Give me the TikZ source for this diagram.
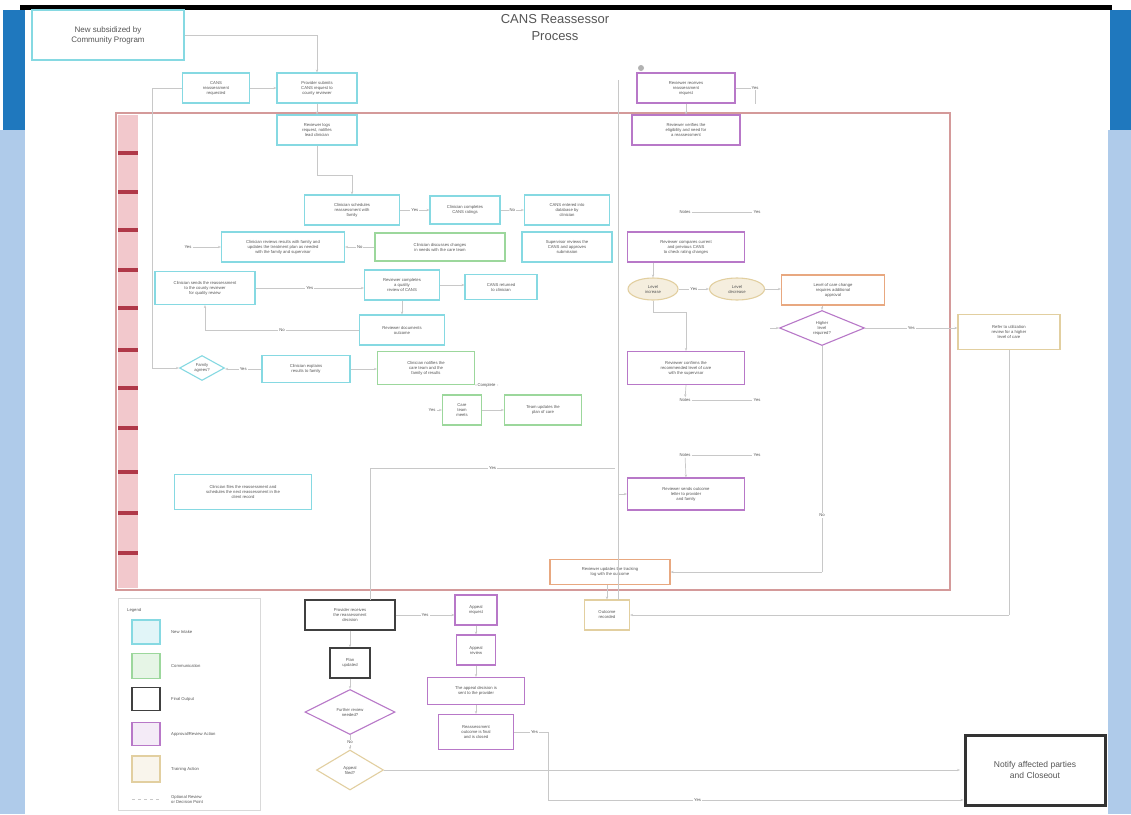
\documentclass[tikz,border=0pt]{standalone}
\usepackage{fontspec}
\setmainfont{Liberation Sans}
\usetikzlibrary{shapes.geometric,arrows.meta}
\definecolor{cyb}{HTML}{86D9E2}
\definecolor{grb}{HTML}{9CD79C}
\definecolor{mgb}{HTML}{B878C8}
\definecolor{tnb}{HTML}{E2CFA0}
\definecolor{orb}{HTML}{E8A880}
\definecolor{rdf}{HTML}{D49A9A}
\definecolor{dkblue}{HTML}{1F78BE}
\definecolor{ltblue}{HTML}{AFCBEA}
\definecolor{lane}{HTML}{F2C8CC}
\definecolor{lanebar}{HTML}{B03848}
\definecolor{ln}{HTML}{C8C8C8}
\definecolor{tx}{HTML}{555555}
\tikzset{
  base/.style={draw, fill=white, line width=1.1pt, align=center, text=tx,
    font=\fontsize{4.2}{5}\selectfont, inner sep=1.5pt},
  cbox/.style={base, draw=cyb},
  gbox/.style={base, draw=grb},
  kbox/.style={base, draw=black!75, line width=1.4pt},
  mbox/.style={base, draw=mgb},
  tbox/.style={base, draw=tnb},
  obox/.style={base, draw=orb},
  tell/.style={base, draw=tnb, ellipse, fill=tnb!35},
  mdia/.style={base, draw=mgb, diamond, aspect=2.2, inner sep=0pt},
  tdia/.style={base, draw=tnb, diamond, aspect=1.8, inner sep=0pt},
  cdia/.style={base, draw=cyb, diamond, aspect=1.8, inner sep=0pt},
  conn/.style={draw=ln, line width=0.7pt, -{Stealth[length=3pt]}},
  plain/.style={draw=ln, line width=0.7pt},
  lbl/.style={fill=white, text=tx, font=\fontsize{4.2}{5}\selectfont, inner sep=1pt},
}
\begin{document}
\begin{tikzpicture}[x=1pt,y=-1pt]
\useasboundingbox (0,0) rectangle (1131,814);
\fill[white] (0,0) rectangle (1131,814);
% side bands
\fill[ltblue] (0,130) rectangle (25,814);
\fill[dkblue] (3,10) rectangle (25,130);
\fill[ltblue] (1108,130) rectangle (1131,814);
\fill[dkblue] (1110,10) rectangle (1131,130);
\fill[black] (20,5) rectangle (1112,10);
% top-left box
\node[base, draw=cyb, line width=2.5pt, minimum width=152pt, minimum height=50pt,
  font=\fontsize{8}{10}\selectfont] (tl) at (108,35) {New subsidized by\\Community Program};
% title
\node[text=tx, font=\fontsize{13}{17}\selectfont, align=center] (title) at (555,28) {CANS Reassessor\\Process};
% red frame
\draw[rdf, line width=2pt] (116,113) rectangle (950,590);
\fill[lane] (118,115) rectangle (138,588);
\foreach \yy in {153,192,230,270,308,350,388,428,472,513,553}{
  \fill[lanebar] (118,\yy-2) rectangle (138,\yy+2);
}
% cyan boxes
\node[cbox, minimum width=67pt, minimum height=30pt] (top1) at (216,88) {CANS\\reassessment\\requested};
\node[cbox, minimum width=80pt, minimum height=30pt] (top2) at (317,88) {Provider submits\\CANS request to\\county reviewer};
\node[cbox, minimum width=80pt, minimum height=30pt] (t3) at (317,130) {Reviewer logs\\request, notifies\\lead clinician};
\node[cbox, minimum width=95pt, minimum height=30pt] (a1) at (352,210) {Clinician schedules\\reassessment with\\family};
\node[cbox, minimum width=70pt, minimum height=28pt] (a2) at (465,210) {Clinician completes\\CANS ratings};
\node[cbox, minimum width=85pt, minimum height=30pt] (a3) at (567,210) {CANS entered into\\database by\\clinician};
\node[cbox, minimum width=123pt, minimum height=30pt] (b1) at (283,247) {Clinician reviews results with family and\\updates the treatment plan as needed\\with the family and supervisor};
\node[gbox, minimum width=130pt, minimum height=28pt] (b2) at (440,247) {Clinician discusses changes\\in needs with the care team};
\node[cbox, minimum width=90pt, minimum height=30pt] (b3) at (567,247) {Supervisor reviews the\\CANS and approves\\submission};
\node[cbox, minimum width=100pt, minimum height=33pt] (c1) at (205,288) {Clinician sends the reassessment\\to the county reviewer\\for quality review};
\node[cbox, minimum width=75pt, minimum height=30pt] (c2) at (402,285) {Reviewer completes\\a quality\\review of CANS};
\node[cbox, minimum width=72pt, minimum height=25pt] (c3) at (501,287) {CANS returned\\to clinician};
\node[cbox, minimum width=85pt, minimum height=30pt] (d1) at (402,330) {Reviewer documents\\outcome};
\node[cdia, minimum width=45pt, minimum height=25pt] (e0) at (202,368) {Family\\agrees?};
\node[cbox, minimum width=88pt, minimum height=27pt] (e1) at (306,369) {Clinician explains\\results to family};
\node[gbox, minimum width=97pt, minimum height=33pt] (e2) at (426,368) {Clinician notifies the\\care team and the\\family of results};
\node[gbox, minimum width=39pt, minimum height=30pt] (f1) at (462,410) {Care\\team\\meets};
\node[gbox, minimum width=77pt, minimum height=30pt] (f2) at (543,410) {Team updates the\\plan of care};
\node[cbox, minimum width=137pt, minimum height=35pt] (g1) at (243,492) {Clinician files the reassessment and\\schedules the next reassessment in the\\client record};
% magenta column
\node[mbox, minimum width=98pt, minimum height=30pt] (m0) at (686,88) {Reviewer receives\\reassessment\\request};
\fill[gray!60] (641,68) circle (3pt);
\node[mbox, minimum width=108pt, minimum height=30pt] (m1) at (686,130) {Reviewer verifies the\\eligibility and need for\\a reassessment};
\node[mbox, minimum width=117pt, minimum height=30pt] (m2) at (686,247) {Reviewer compares current\\and previous CANS\\to check rating changes};
\node[tell, minimum width=50pt, minimum height=22pt] (el1) at (653,289) {Level\\increase};
\node[tell, minimum width=55pt, minimum height=22pt] (el2) at (737,289) {Level\\decrease};
\node[mbox, minimum width=117pt, minimum height=33pt] (m3) at (686,368) {Reviewer confirms the\\recommended level of care\\with the supervisor};
\node[mbox, minimum width=117pt, minimum height=32pt] (m4) at (686,494) {Reviewer sends outcome\\letter to provider\\and family};
\node[obox, minimum width=103pt, minimum height=30pt] (o1) at (833,290) {Level of care change\\requires additional\\approval};
\node[mdia, minimum width=85pt, minimum height=35pt] (dia) at (822,328) {Higher\\level\\required?};
\node[tbox, minimum width=102pt, minimum height=35pt] (t1) at (1009,332) {Refer to utilization\\review for a higher\\level of care};
\node[obox, minimum width=120pt, minimum height=25pt] (ob) at (610,572) {Reviewer updates the tracking\\log with the outcome};
\node[tbox, minimum width=45pt, minimum height=30pt] (tb) at (607,615) {Outcome\\recorded};
% bottom
\node[kbox, minimum width=90pt, minimum height=30pt] (k1) at (350,615) {Provider receives\\the reassessment\\decision};
\node[kbox, minimum width=40pt, minimum height=30pt] (k2) at (350,663) {Plan\\updated};
\node[mdia, minimum width=90pt, minimum height=45pt] (kd) at (350,712) {Further review\\needed?};
\node[tdia, minimum width=67pt, minimum height=40pt] (td) at (350,770) {Appeal\\filed?};
\node[mbox, minimum width=42pt, minimum height=30pt] (p1) at (476,610) {Appeal\\request};
\node[mbox, minimum width=39pt, minimum height=30pt] (p2) at (476,650) {Appeal\\review};
\node[mbox, minimum width=97pt, minimum height=27pt] (p3) at (476,691) {The appeal decision is\\sent to the provider};
\node[mbox, minimum width=75pt, minimum height=35pt] (p4) at (476,732) {Reassessment\\outcome is final\\and is closed};
\node[base, draw=black!80, line width=3pt, minimum width=140pt, minimum height=70pt,
  font=\fontsize{8.5}{11}\selectfont] (nt) at (1035,770) {Notify affected parties\\and Closeout};
% legend
\draw[gray!30, line width=0.8pt] (118,598) rectangle (260,810);
\node[lbl, anchor=west] (lg) at (126,610) {Legend};
\node[cbox, fill=cyb!25, minimum width=28pt, minimum height=24pt] (s1) at (146,632) {};
\node[lbl, anchor=west] (l1) at (170,632) {New Intake};
\node[gbox, fill=grb!25, minimum width=28pt, minimum height=25pt] (s2) at (146,666) {};
\node[lbl, anchor=west] (l2) at (170,666) {Communication};
\node[kbox, minimum width=28pt, minimum height=23pt] (s3) at (146,699) {};
\node[lbl, anchor=west] (l3) at (170,699) {Final Output};
\node[mbox, fill=mgb!15, minimum width=28pt, minimum height=23pt] (s4) at (146,734) {};
\node[lbl, anchor=west] (l4) at (170,734) {Approval/Review Action};
\node[tbox, fill=tnb!20, minimum width=28pt, minimum height=26pt] (s5) at (146,769) {};
\node[lbl, anchor=west] (l5) at (170,769) {Training Action};
\coordinate (s6a) at (132,799); \coordinate (s6b) at (160,799);
\draw[plain, dashed] (s6a) -- (s6b);
\node[lbl, anchor=west, align=left] (l6) at (170,799) {Optional Review\\or Decision Point};
% connectors
\coordinate (c0) at (317,35);
\draw[conn] (tl.east) -- (c0) -- (top2.north);
\draw[conn] (top1.east) -- (top2.west);
\coordinate (lft) at (152,88);
\draw[plain] (top1.west) -- (lft);
\coordinate (lft2) at (152,368);
\draw[conn] (lft) -- (lft2) -- (e0.west);
\draw[conn] (top2.south) -- (t3.north);
\coordinate (t3a) at (352,175);
\draw[conn] (t3.south) |- (t3a) -- (a1.north);
\draw[conn] (a1.east) -- node[lbl]{Yes} (a2.west);
\draw[conn] (a2.east) -- node[lbl]{No} (a3.west);
\draw[conn] (b2.west) -- node[lbl]{No} (b1.east);
\node[lbl] (ya) at (188,247) {Yes};
\draw[conn] (ya) -- (b1.west);
\coordinate (c1r) at (300,288);
\draw[conn] (c1.east) -- node[lbl]{Yes} (c2.west |- c1r);
\draw[conn] (c2.east) -- (c3.west |- c2.east);
\draw[conn] (c2.south) -- (d1.north);
\coordinate (dl) at (205,330);
\draw[conn] (d1.west) -- node[lbl]{No} (dl) -- (c1.south);
\draw[conn] (e1.west) -- node[lbl]{Yes} (e0.east |- e1.west);
\draw[conn] (e1.east) -- (e2.west |- e1.east);
\coordinate (e2r) at (498,385);
\draw[plain] (e2.south east) -- node[lbl]{Complete} (e2r);
\draw[conn] (f1.east) -- (f2.west);
\node[lbl] (fy) at (432,410) {Yes};
\draw[conn] (fy) -- (f1.west);
\coordinate (h1) at (370,468); \coordinate (h2) at (615,468);
\draw[plain] (h1) -- node[lbl]{Yes} (h2);
\coordinate (h3) at (370,600);
\draw[plain] (h1) -- (h3);
\coordinate (vl) at (618,80);
\coordinate (vl2) at (618,600);
\draw[plain] (vl) -- (vl2);
\draw[conn] (m0.south) -- (m1.north);
\coordinate (mr) at (755,104);
\draw[plain] (m0.east) -| node[lbl, pos=0.5]{Yes} (mr);
\node[lbl] (n1) at (685,212) {Notes};
\node[lbl] (y1) at (757,212) {Yes};
\draw[plain] (n1) -- (y1);
\draw[conn] (m2.south -| el1) -- (el1.north);
\draw[conn] (el1.east) -- node[lbl]{Yes} (el2.west);
\draw[conn] (el2.east) -- (o1.west |- el2.east);
\coordinate (el1d) at (686,312);
\draw[conn] (el1.south) |- (el1d) -- (m3.north);
\draw[conn] (o1.south -| dia) -- (dia.north);
\coordinate (dl2) at (770,328);
\draw[conn] (dl2) -- (dia.west);
\draw[conn] (dia.east) -- node[lbl]{Yes} (t1.west |- dia.east);
\coordinate (dd) at (822,572);
\draw[plain] (dia.south) -- node[lbl, pos=0.75]{No} (dd);
\draw[conn] (dd) -- (ob.east);
\node[lbl] (n2) at (685,400) {Notes};
\node[lbl] (y2) at (757,400) {Yes};
\draw[plain] (n2) -- (y2);
\node[lbl] (n3) at (685,455) {Notes};
\node[lbl] (y3) at (757,455) {Yes};
\draw[plain] (n3) -- (y3);
\draw[conn] (m3.south) -- (n2);
\draw[conn] (n3) -- (m4.north);
\coordinate (t1d) at (1009,615);
\draw[plain] (t1.south) -- (t1d);
\draw[conn] (t1d) -- (tb.east);
\draw[conn] (ob.south -| tb) -- (tb.north);
\coordinate (m4l) at (618,494);
\draw[conn] (m4l) -- (m4.west);
\draw[conn] (k1.east) -- node[lbl]{Yes} (p1.west |- k1.east);
\draw[conn] (k1.south) -- (k2.north);
\draw[conn] (k2.south) -- (kd.north);
\draw[conn] (kd.south) -- node[lbl]{No} (td.north);
\draw[conn] (p1.south) -- (p2.north);
\draw[conn] (p2.south) -- (p3.north);
\draw[conn] (p3.south) -- (p4.north);
\coordinate (tdr) at (960,770);
\draw[conn] (td.east) -- (tdr);
\coordinate (bb) at (668,800);
\coordinate (pr) at (548,732);
\coordinate (pd) at (548,800);
\draw[plain] (p4.east) -- node[lbl, pos=0.6]{Yes} (pr) -- (pd) -- (bb);
\draw[conn] (bb) -- node[lbl, pos=0.1]{Yes} (nt.west |- bb);
\end{tikzpicture}
\end{document}
